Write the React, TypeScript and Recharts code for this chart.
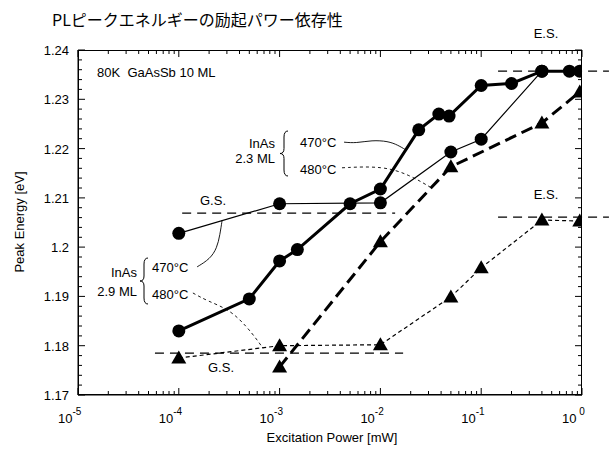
import { LineChart, Line, XAxis, YAxis, ReferenceLine, Customized } from "recharts"

const DECADES = [1e-5, 1e-4, 1e-3, 1e-2, 1e-1, 1]
const MINOR_X = DECADES.slice(0, 5).flatMap((d) => [2, 3, 4, 5, 6, 7, 8, 9].map((m) => m * d))
const Y_MAJOR = [1.17, 1.18, 1.19, 1.2, 1.21, 1.22, 1.23, 1.24]
const Y_MINOR = Array.from({ length: 36 }, (_, i) => +(1.17 + i * 0.002).toFixed(3)).filter((_, i) => i % 5 !== 0)

// InAs 2.3 ML, 470°C (thick line, circles)
const ml23_470 = [
  { p: 1e-4, e: 1.183 },
  { p: 5e-4, e: 1.1895 },
  { p: 1e-3, e: 1.1972 },
  { p: 1.5e-3, e: 1.1995 },
  { p: 5e-3, e: 1.2088 },
  { p: 1e-2, e: 1.2118 },
  { p: 2.4e-2, e: 1.2238 },
  { p: 3.8e-2, e: 1.227 },
  { p: 4.8e-2, e: 1.2266 },
  { p: 0.1, e: 1.2328 },
  { p: 0.2, e: 1.2332 },
  { p: 0.4, e: 1.2357 },
  { p: 0.75, e: 1.2357 },
  { p: 0.95, e: 1.2357 },
]
// InAs 2.3 ML, 480°C (thick dashed, triangles)
const ml23_480 = [
  { p: 1e-3, e: 1.1757 },
  { p: 1e-2, e: 1.2011 },
  { p: 5e-2, e: 1.2163 },
  { p: 0.4, e: 1.2252 },
  { p: 0.95, e: 1.2315 },
]
// InAs 2.9 ML, 470°C (thin line, circles)
const ml29_470 = [
  { p: 1e-4, e: 1.2028 },
  { p: 1e-3, e: 1.2088 },
  { p: 1e-2, e: 1.209 },
  { p: 5e-2, e: 1.2193 },
  { p: 0.1, e: 1.2219 },
  { p: 0.4, e: 1.2357 },
]
// InAs 2.9 ML, 480°C (thin dotted, triangles)
const ml29_480 = [
  { p: 1e-4, e: 1.1775 },
  { p: 1e-3, e: 1.18 },
  { p: 1e-2, e: 1.1802 },
  { p: 5e-2, e: 1.1899 },
  { p: 0.1, e: 1.1958 },
  { p: 0.4, e: 1.2055 },
  { p: 0.95, e: 1.2053 },
]

// leader curves from the labels to the lines
const lead23_470 = [
  { p: 4.36e-3, e: 1.2213 },
  { p: 5.73e-3, e: 1.2211 },
  { p: 8.26e-3, e: 1.2217 },
  { p: 0.01189, e: 1.2215 },
  { p: 0.01496, e: 1.2207 },
  { p: 0.01795, e: 1.2197 },
]
const lead23_480 = [
  { p: 4.16e-3, e: 1.2161 },
  { p: 0.01062, e: 1.2165 },
  { p: 0.01968, e: 1.2146 },
  { p: 0.03105, e: 1.2122 },
]
const lead29_470 = [
  { p: 1.52e-4, e: 1.196 },
  { p: 2.04e-4, e: 1.1976 },
  { p: 2.39e-4, e: 1.1998 },
  { p: 2.56e-4, e: 1.2025 },
  { p: 2.69e-4, e: 1.2055 },
]
const lead29_480 = [
  { p: 1.38e-4, e: 1.1907 },
  { p: 1.91e-4, e: 1.1891 },
  { p: 3.22e-4, e: 1.1873 },
  { p: 4.75e-4, e: 1.1838 },
  { p: 5.97e-4, e: 1.1812 },
  { p: 6.84e-4, e: 1.1795 },
]

// G.S. / E.S. guide levels
const GS_UPPER = { e: 1.2069, from: 1.08e-4, to: 0.014 }
const GS_LOWER = { e: 1.1785, from: 5.8e-5, to: 0.0168 }
const ES_UPPER = { e: 1.2357, from: 0.147, to: 1.85 }
const ES_LOWER = { e: 1.2061, from: 0.147, to: 1.85 }

const LATIN = '"Liberation Sans", Arial, sans-serif'
const X0 = 1e-5
const X1 = 1
const Y0 = 1.17
const Y1 = 1.24

// plot box (chart margin + axis sizes)
const PLOT = { left: 78, top: 50, width: 504, height: 345 }
const px = (v: number) => PLOT.left + ((Math.log10(v) - Math.log10(X0)) / (Math.log10(X1) - Math.log10(X0))) * PLOT.width
const py = (v: number) => PLOT.top + ((Y1 - v) / (Y1 - Y0)) * PLOT.height

const Tri = (props: any) => {
  const { cx, cy } = props
  if (cx == null || cy == null) return <g />
  return (
    <polygon
      points={`${cx},${cy - 7.5} ${cx - 7.5},${cy + 5.5} ${cx + 7.5},${cy + 5.5}`}
      fill="#000"
    />
  )
}

const XTick = (props: any) => {
  const { x, y, payload } = props
  const exp = Math.round(Math.log10(payload.value))
  return (
    <text x={x - 20} y={y + 28} fontSize={13} fontFamily={LATIN} fill="#000">
      10
      <tspan dy={-8} fontSize={10}>
        {exp === 0 ? "\u00a00" : String(exp)}
      </tspan>
    </text>
  )
}

const YTick = (props: any) => {
  const { x, y, payload } = props
  return (
    <text x={x} y={y + 5} textAnchor="end" fontSize={13} fontFamily={LATIN} fill="#000">
      {String(Number(payload.value.toFixed(2)))}
    </text>
  )
}

// inward tick marks on all four sides
function tickPath() {
  const r = PLOT.left + PLOT.width
  const b = PLOT.top + PLOT.height
  const parts: string[] = []
  const xt = (list: number[], len: number) =>
    list.forEach((t) => {
      const x = px(t).toFixed(1)
      parts.push(`M${x} ${b}V${b - len}M${x} ${PLOT.top}V${PLOT.top + len}`)
    })
  const yt = (list: number[], len: number) =>
    list.forEach((t) => {
      const y = py(t).toFixed(1)
      parts.push(`M${PLOT.left} ${y}H${PLOT.left + len}M${r} ${y}H${r - len}`)
    })
  xt(DECADES, 7)
  xt(MINOR_X, 4)
  yt(Y_MAJOR, 7)
  yt(Y_MINOR, 4)
  return parts.join("")
}
const TICK_PATH = tickPath()

function brace(x: number, y0: number, y1: number) {
  const ym = (y0 + y1) / 2
  return `M ${x + 7} ${y0} Q ${x + 3} ${y0} ${x + 3} ${y0 + 6} L ${x + 3} ${ym - 5} Q ${x + 3} ${ym} ${x - 1} ${ym} Q ${x + 3} ${ym} ${x + 3} ${ym + 5} L ${x + 3} ${y1 - 6} Q ${x + 3} ${y1} ${x + 7} ${y1}`
}

const Annotations = () => (
  <g fontFamily={LATIN} fontSize={13} fill="#000">
    <text x={52} y={26} fontSize={16} fontFamily='"Noto Sans CJK JP", sans-serif'>
      PLピークエネルギーの励起パワー依存性
    </text>
    <text x={97} y={77}>80K{"\u00a0\u00a0"}GaAsSb 10 ML</text>
    <text x={546} y={38} textAnchor="middle">E.S.</text>
    <text x={546} y={199} textAnchor="middle">E.S.</text>
    <text x={213} y={205} textAnchor="middle">G.S.</text>
    <text x={221} y={372} textAnchor="middle">G.S.</text>

    <text x={275} y={148} textAnchor="end">InAs</text>
    <text x={275} y={163} textAnchor="end">2.3 ML</text>
    <path d={brace(281, 131, 176)} fill="none" stroke="#000" strokeWidth={1} />
    <text x={300} y={147}>470°C</text>
    <text x={300} y={174}>480°C</text>

    <text x={137} y={277} textAnchor="end">InAs</text>
    <text x={137} y={296} textAnchor="end">2.9 ML</text>
    <path d={brace(141, 258, 304)} fill="none" stroke="#000" strokeWidth={1} />
    <text x={152} y={272}>470°C</text>
    <text x={152} y={299}>480°C</text>

    <text x={332} y={442} textAnchor="middle">Excitation Power [mW]</text>
    <text x={24} y={222} textAnchor="middle" transform="rotate(-90 24 222)">
      Peak Energy [eV]
    </text>
  </g>
)

export default function App() {
  return (
    <div style={{ position: "absolute", left: 0, top: 0, width: 609, height: 464, background: "#fff" }}>
      <LineChart width={609} height={464} margin={{ top: 50, right: 27, bottom: 39, left: 38 }}>
        <XAxis type="number" dataKey="p" scale="log" domain={[X0, X1]} allowDataOverflow
          ticks={DECADES} interval={0} height={30} tickSize={0} tickMargin={0} tickLine={false}
          tick={<XTick />} axisLine={{ stroke: "#000" }} />
        <YAxis type="number" dataKey="e" domain={[Y0, Y1]} allowDataOverflow
          ticks={Y_MAJOR} interval={0} width={40} tickSize={0} tickMargin={9} tickLine={false}
          tick={<YTick />} axisLine={{ stroke: "#000" }} />

        {/* G.S. / E.S. levels */}
        {[GS_UPPER, GS_LOWER, ES_UPPER, ES_LOWER].map((g, i) => (
          <ReferenceLine key={i} ifOverflow="visible"
            segment={[{ x: g.from, y: g.e }, { x: g.to, y: g.e }]}
            stroke="#000" strokeWidth={1.2} strokeDasharray="9 6" />
        ))}

        {/* leaders */}
        <Line data={lead23_470} dataKey="e" type="basis" stroke="#000"
          strokeWidth={0.9} dot={false} isAnimationActive={false} />
        <Line data={lead23_480} dataKey="e" type="basis" stroke="#000"
          strokeWidth={0.9} strokeDasharray="3 3" dot={false} isAnimationActive={false} />
        <Line data={lead29_470} dataKey="e" type="basis" stroke="#000"
          strokeWidth={0.9} dot={false} isAnimationActive={false} />
        <Line data={lead29_480} dataKey="e" type="basis" stroke="#000"
          strokeWidth={0.9} strokeDasharray="3 3" dot={false} isAnimationActive={false} />

        {/* data */}
        <Line data={ml29_480} dataKey="e" type="linear" stroke="#000"
          strokeWidth={1.2} strokeDasharray="4 3" dot={<Tri />} isAnimationActive={false} />
        <Line data={ml23_480} dataKey="e" type="linear" stroke="#000"
          strokeWidth={3} strokeDasharray="12 6" dot={<Tri />} isAnimationActive={false} />
        <Line data={ml29_470} dataKey="e" type="linear" stroke="#000"
          strokeWidth={1.2} dot={{ r: 6.5, fill: "#000", stroke: "#000", strokeWidth: 0 }} isAnimationActive={false} />
        <Line data={ml23_470} dataKey="e" type="linear" stroke="#000"
          strokeWidth={3} dot={{ r: 6.5, fill: "#000", stroke: "#000", strokeWidth: 0 }} isAnimationActive={false} />

        <Customized component={<Annotations />} />
      </LineChart>

      {/* plot frame and inward ticks, overlaid on the chart */}
      <svg width={609} height={464} style={{ position: "absolute", left: 0, top: 0, pointerEvents: "none" }}>
        <rect x={PLOT.left + 0.5} y={PLOT.top + 0.5} width={PLOT.width - 1} height={PLOT.height - 1}
          fill="none" stroke="#000" strokeWidth={1} />
        <path d={TICK_PATH} stroke="#000" strokeWidth={1} fill="none" />
      </svg>
    </div>
  )
}
